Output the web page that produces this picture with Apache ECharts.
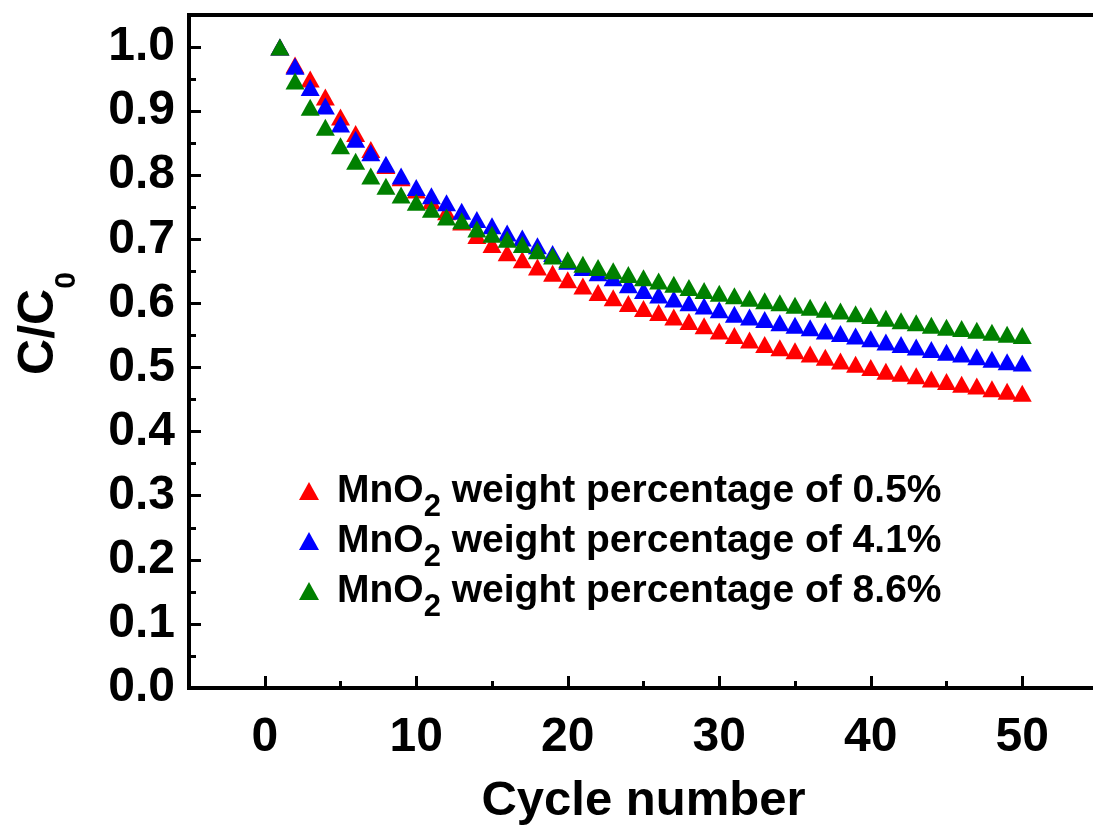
<!DOCTYPE html>
<html>
<head>
<meta charset="utf-8">
<title>Capacity retention</title>
<script src="https://cdn.jsdelivr.net/npm/echarts@6/dist/echarts.min.js"></script>
<style>
html, body { margin: 0; padding: 0; background: #fff; }
#chart { width: 1093px; height: 827px; }
</style>
</head>
<body>
<div id="chart"></div>
<script>
// cycle numbers on the x axis
const cycles = [1, 2, 3, 4, 5, 6, 7, 8, 9, 10,
  11, 12, 13, 14, 15, 16, 17, 18, 19, 20,
  21, 22, 23, 24, 25, 26, 27, 28, 29, 30,
  31, 32, 33, 34, 35, 36, 37, 38, 39, 40,
  41, 42, 43, 44, 45, 46, 47, 48, 49, 50];

// C/C0 for each MnO2 loading
const mno2_05 = [1.000, 0.972, 0.950, 0.922, 0.891, 0.865, 0.840, 0.815, 0.796, 0.777,
  0.760, 0.743, 0.727, 0.706, 0.692, 0.679, 0.668, 0.657, 0.647, 0.637,
  0.627, 0.617, 0.609, 0.600, 0.592, 0.586, 0.579, 0.572, 0.565, 0.557,
  0.550, 0.543, 0.536, 0.531, 0.526, 0.521, 0.516, 0.510, 0.505, 0.500,
  0.494, 0.491, 0.487, 0.482, 0.478, 0.474, 0.471, 0.467, 0.463, 0.460];
const mno2_41 = [1.000, 0.970, 0.937, 0.908, 0.880, 0.856, 0.835, 0.817, 0.799, 0.781,
  0.768, 0.757, 0.744, 0.731, 0.721, 0.710, 0.702, 0.690, 0.678, 0.666,
  0.656, 0.648, 0.640, 0.629, 0.620, 0.613, 0.607, 0.601, 0.596, 0.590,
  0.583, 0.579, 0.575, 0.570, 0.566, 0.562, 0.557, 0.553, 0.549, 0.545,
  0.540, 0.536, 0.532, 0.528, 0.524, 0.521, 0.517, 0.513, 0.509, 0.507];
const mno2_86 = [1.000, 0.947, 0.906, 0.875, 0.846, 0.822, 0.799, 0.783, 0.769, 0.758,
  0.747, 0.735, 0.729, 0.716, 0.708, 0.700, 0.692, 0.682, 0.674, 0.668,
  0.661, 0.656, 0.651, 0.645, 0.640, 0.635, 0.630, 0.625, 0.620, 0.616,
  0.612, 0.608, 0.604, 0.601, 0.597, 0.594, 0.591, 0.588, 0.584, 0.581,
  0.577, 0.573, 0.570, 0.566, 0.563, 0.561, 0.558, 0.555, 0.552, 0.550];

const seriesNames = ['MnO2 weight percentage of 0.5%', 'MnO2 weight percentage of 4.1%', 'MnO2 weight percentage of 8.6%'];
const seriesColors = ['#ff0000', '#0000ff', '#008000'];

// tick labels
const xMajor = [0, 10, 20, 30, 40, 50];
const xMinor = [5, 15, 25, 35, 45];
const yMajor = [0, 0.1, 0.2, 0.3, 0.4, 0.5, 0.6, 0.7, 0.8, 0.9, 1.0];
const yMinor = [0.05, 0.15, 0.25, 0.35, 0.45, 0.55, 0.65, 0.75, 0.85, 0.95];

const FONT = 'Liberation Sans, Arial, sans-serif';

function pairs(ys) {
  return cycles.map((c, i) => [c, ys[i]]);
}

let myChart = echarts.init(document.getElementById('chart'));
const allValues = [mno2_05, mno2_41, mno2_86];

myChart.setOption({
  animation: false,
  backgroundColor: '#fff',
  grid: {
    left: 189, right: -5, top: 15, bottom: 139,
    show: true, borderColor: '#000', borderWidth: 4,
    outerBoundsMode: 'none'
  },
  legend: {
    data: seriesNames,
    orient: 'vertical',
    left: 294,
    top: 466,
    icon: 'triangle',
    itemWidth: 20,
    itemHeight: 18,
    itemGap: -2,
    selectedMode: false,
    formatter: name => name.replace('MnO2', 'MnO{s|2}'),
    textStyle: {
      fontFamily: FONT, fontSize: 39, fontWeight: 'bold', color: '#000',
      lineHeight: 40, padding: [0, 0, 0, 13],
      rich: {
        s: { fontFamily: FONT, fontSize: 31, fontWeight: 'bold', color: '#000', lineHeight: 30, padding: [0, 0, -12, 0], verticalAlign: 'bottom' }
      }
    }
  },
  xAxis: [
    {
      type: 'value', min: -5, max: 55, position: 'bottom',
      name: 'Cycle number', nameLocation: 'middle', nameGap: 89,
      nameTextStyle: { fontFamily: FONT, fontSize: 49, fontWeight: 'bold', color: '#000' },
      axisLine: { onZero: false, lineStyle: { color: '#000', width: 4 } },
      axisTick: { inside: true, length: 12, customValues: xMajor, lineStyle: { color: '#000', width: 3 } },
      axisLabel: { customValues: xMajor, fontFamily: FONT, fontSize: 48, fontWeight: 'bold', color: '#000', margin: 26 },
      splitLine: { show: false }
    },
    {
      type: 'value', min: -5, max: 55, position: 'bottom',
      axisLine: { show: false, onZero: false },
      axisTick: { inside: true, length: 7, customValues: xMinor, lineStyle: { color: '#000', width: 3 } },
      axisLabel: { show: false },
      splitLine: { show: false }
    }
  ],
  yAxis: [
    {
      type: 'value', min: 0, max: 1.05, position: 'left',
      name: 'C/C{s|0}', nameLocation: 'middle', nameGap: 122,
      nameTextStyle: {
        fontFamily: FONT, fontSize: 50, fontWeight: 'bold', color: '#000', lineHeight: 56,
        padding: [0, 0, 0, 56],
        rich: { s: { fontFamily: FONT, fontSize: 30, fontWeight: 'bold', color: '#000', lineHeight: 30, padding: [0, 0, -15, 0], verticalAlign: 'bottom' } }
      },
      axisLine: { onZero: false, lineStyle: { color: '#000', width: 4 } },
      axisTick: { inside: true, length: 12, customValues: yMajor, lineStyle: { color: '#000', width: 3 } },
      axisLabel: {
        customValues: yMajor, formatter: v => v.toFixed(1),
        fontFamily: FONT, fontSize: 48, fontWeight: 'bold', color: '#000', margin: 14
      },
      splitLine: { show: false }
    },
    {
      type: 'value', min: 0, max: 1.05, position: 'left',
      axisLine: { show: false, onZero: false },
      axisTick: { inside: true, length: 7, customValues: yMinor, lineStyle: { color: '#000', width: 3 } },
      axisLabel: { show: false },
      splitLine: { show: false }
    }
  ],
  series: seriesNames.map((n, k) => ({
    name: n,
    type: 'scatter',
    symbol: 'triangle',
    symbolSize: [19, 17],
    itemStyle: { color: seriesColors[k], opacity: 1 },
    data: pairs(allValues[k])
  }))
});
</script>
</body>
</html>
